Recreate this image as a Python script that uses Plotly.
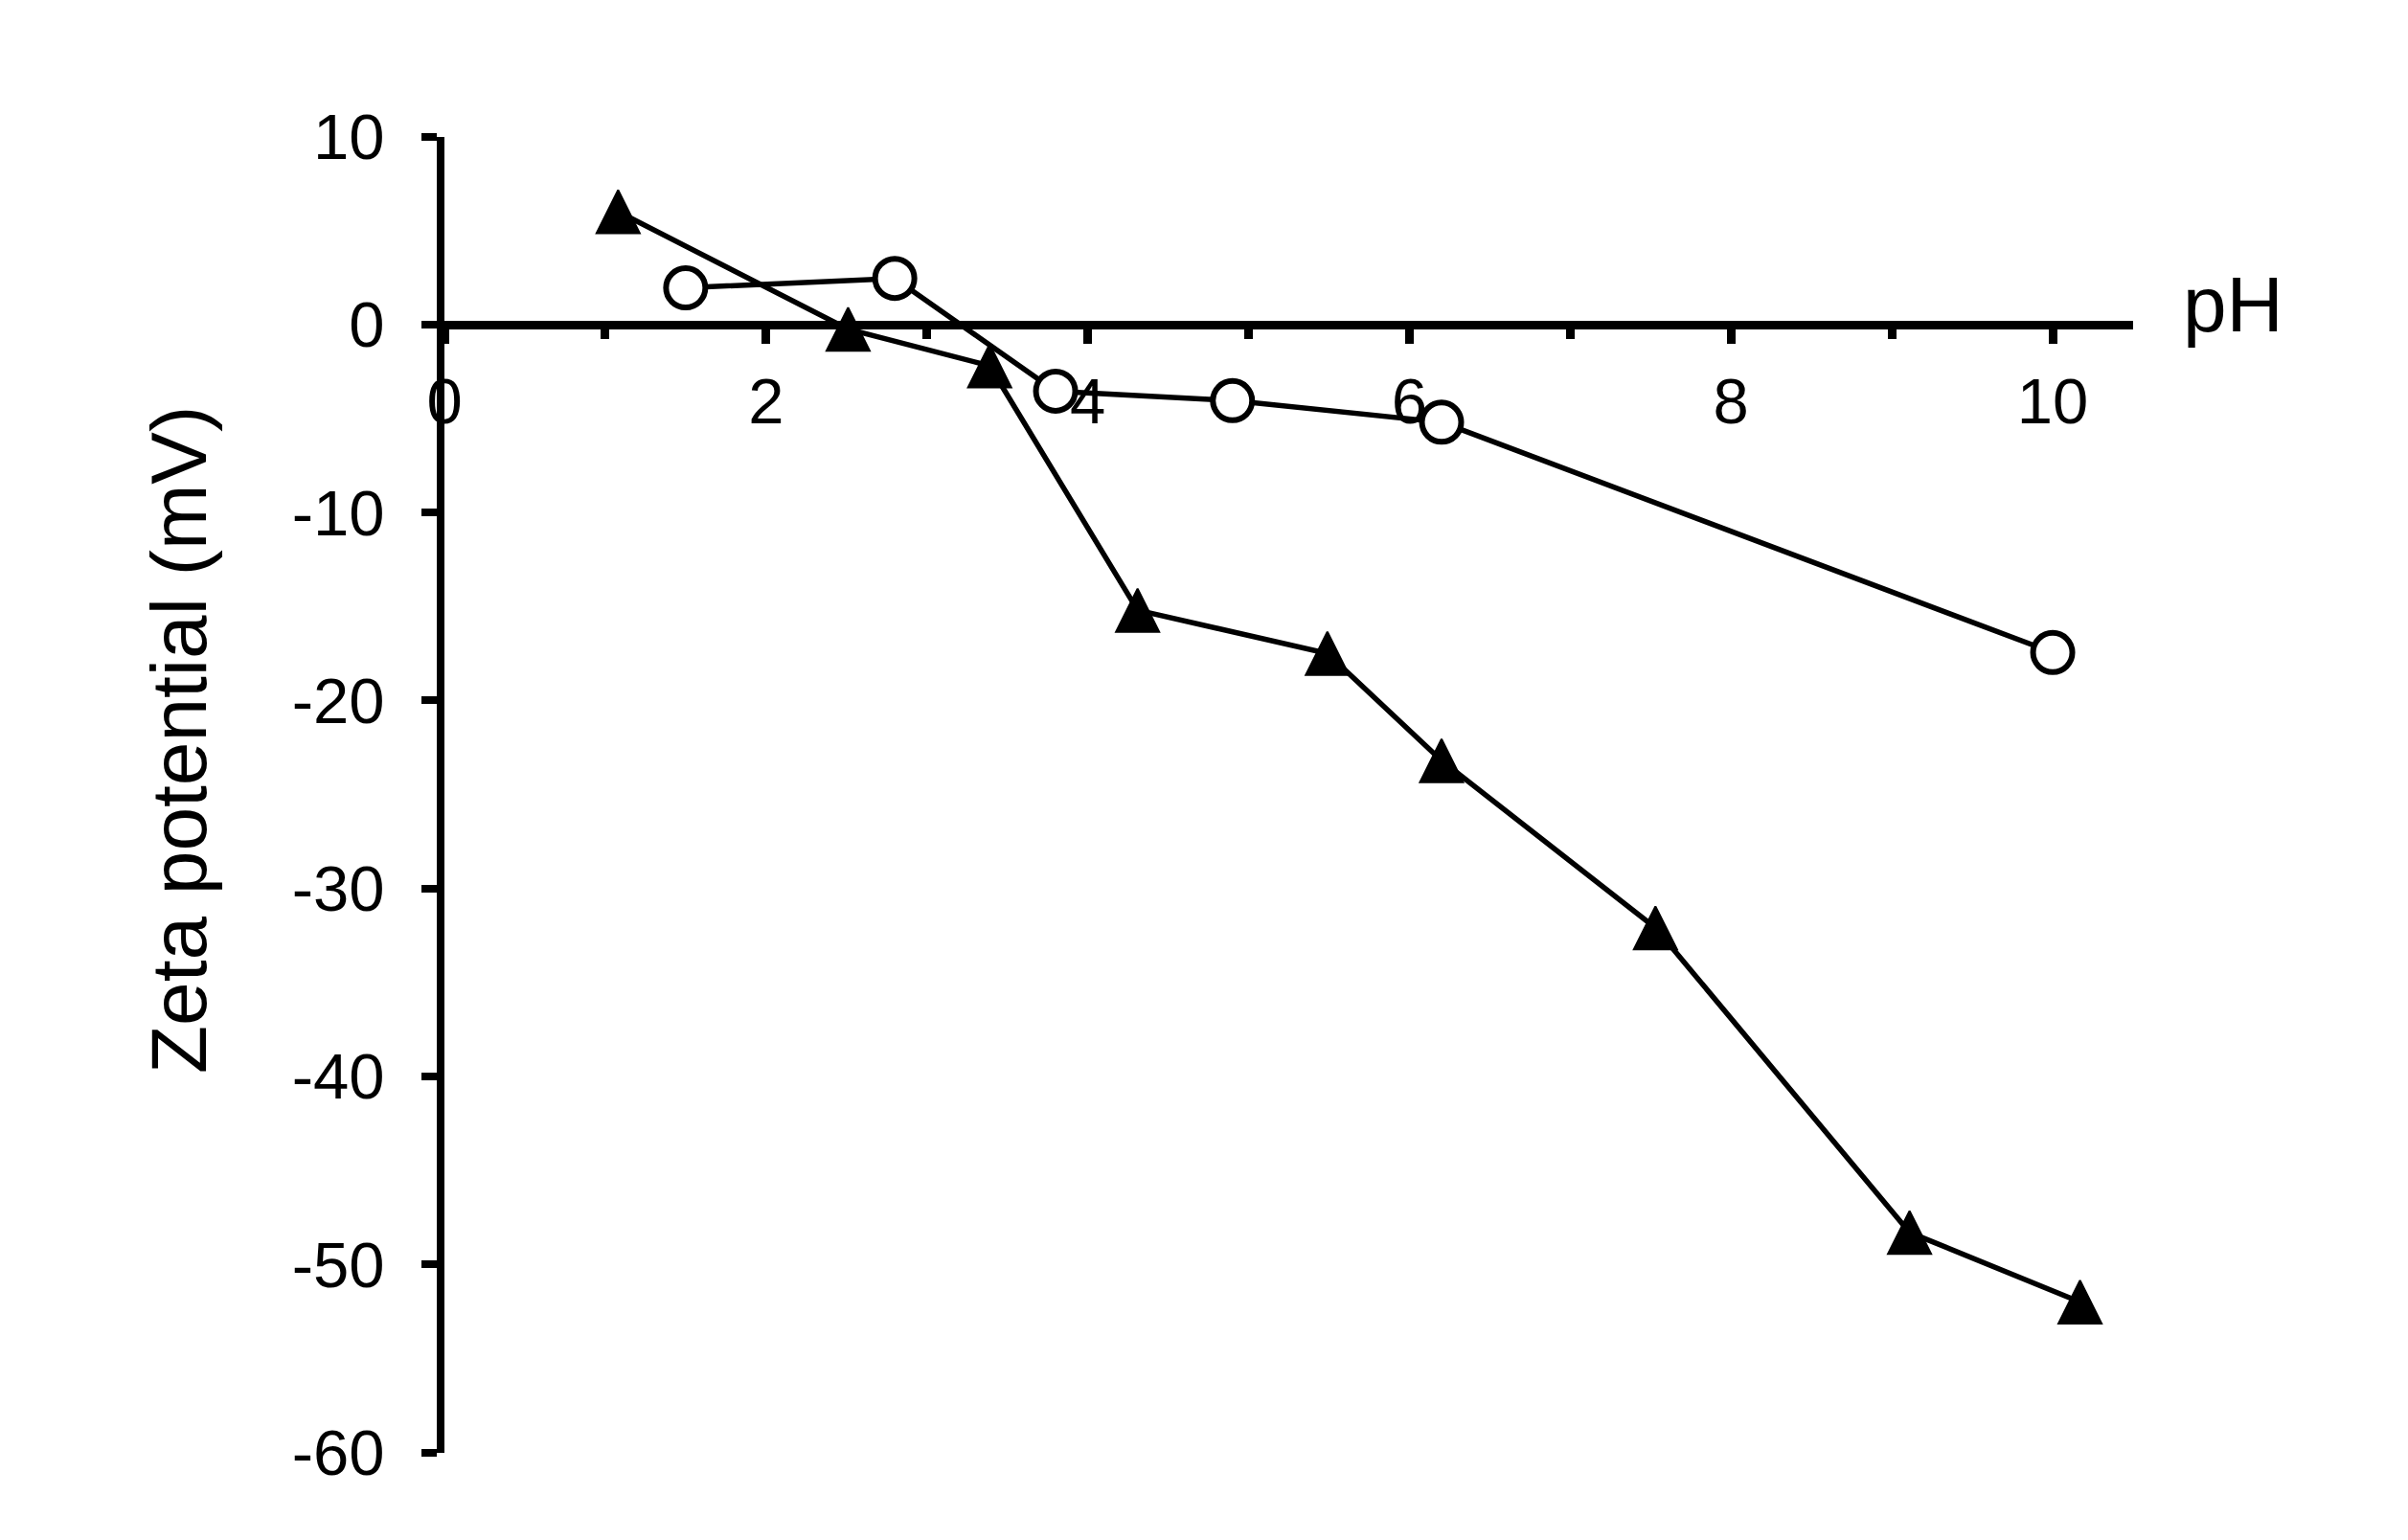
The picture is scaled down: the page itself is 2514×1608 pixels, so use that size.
import plotly.graph_objects as go

# ---- data ----
tri_ph = [1.08, 2.51, 3.39, 4.31, 5.49, 6.20, 7.53, 9.11, 10.17]
tri_zeta = [6.0, -0.25, -2.2, -15.2, -17.5, -23.2, -32.1, -48.3, -52.0]

circ_ph = [1.50, 2.80, 3.80, 4.90, 6.20, 10.0]
circ_zeta = [1.95, 2.45, -3.55, -4.05, -5.2, -17.45]

x_range = [0, 10.5]
y_range = [-60, 10]
y_tickvals = [10, 0, -10, -20, -30, -40, -50, -60]
y_ticktext = ["10", "0", "-10", "-20", "-30", "-40", "-50", "-60"]
x_title = "pH"
y_title = "Zeta potential (mV)"

W, H = 2514, 1608
FONT = "Liberation Sans, Arial, sans-serif"

x_dom = [464 / W, 2227 / W]
y_dom = [1 - 1516.5 / H, 1 - 142.5 / H]
# x axis crosses the y axis at zeta = 0
x_pos = y_dom[0] + (0 - y_range[0]) / (y_range[1] - y_range[0]) * (y_dom[1] - y_dom[0])

TRI_SIZE = 45

fig = go.Figure()
fig.add_trace(go.Scatter(
    x=tri_ph, y=tri_zeta, mode="lines+markers",
    line=dict(color="black", width=5.5, backoff=0),
    marker=dict(symbol="arrow-down", angle=180, standoff=TRI_SIZE / 2,
                size=TRI_SIZE, color="black", line=dict(color="black", width=2)),
    showlegend=False,
))
fig.add_trace(go.Scatter(
    x=circ_ph, y=circ_zeta, mode="lines+markers",
    line=dict(color="black", width=5.5),
    marker=dict(symbol="circle", size=41, color="white",
                line=dict(color="black", width=6)),
    showlegend=False,
))

fig.update_layout(
    width=W, height=H,
    margin=dict(l=0, r=0, t=0, b=0),
    paper_bgcolor="white", plot_bgcolor="white",
    font=dict(family=FONT, color="black"),
    xaxis=dict(
        domain=x_dom, range=x_range, anchor="free", position=x_pos,
        showgrid=False, zeroline=False,
        showline=True, linecolor="black", linewidth=9,
        ticks="outside", ticklen=15, tickwidth=9, tickcolor="black",
        tick0=0, dtick=2,
        minor=dict(ticks="outside", ticklen=10, tickwidth=9, tickcolor="black",
                   tick0=0, dtick=1, showgrid=False),
        tickfont=dict(size=67, family=FONT, color="black"),
        ticklabelstandoff=3,
        automargin=False, layer="above traces",
    ),
    yaxis=dict(
        domain=y_dom, range=y_range, anchor="x",
        showgrid=False, zeroline=False,
        showline=True, linecolor="black", linewidth=8,
        ticks="outside", ticklen=16, tickwidth=8, tickcolor="black",
        tickmode="array", tickvals=y_tickvals, ticktext=y_ticktext,
        tickfont=dict(size=67, family=FONT, color="black"),
        ticklabelstandoff=25,
        automargin=False, layer="above traces",
    ),
    annotations=[
        dict(text=x_title, xref="paper", yref="paper", x=2277 / W, y=1 - 318 / H,
             xanchor="left", yanchor="middle", showarrow=False,
             font=dict(size=82, family=FONT, color="black")),
        dict(text=y_title, xref="paper", yref="paper", x=186 / W, y=1 - 773 / H,
             xanchor="center", yanchor="middle", textangle=-90, showarrow=False,
             font=dict(size=82, family=FONT, color="black")),
    ],
)

fig.write_html("out.html", config={"displayModeBar": False},
               post_script="document.body.style.margin='0';")
